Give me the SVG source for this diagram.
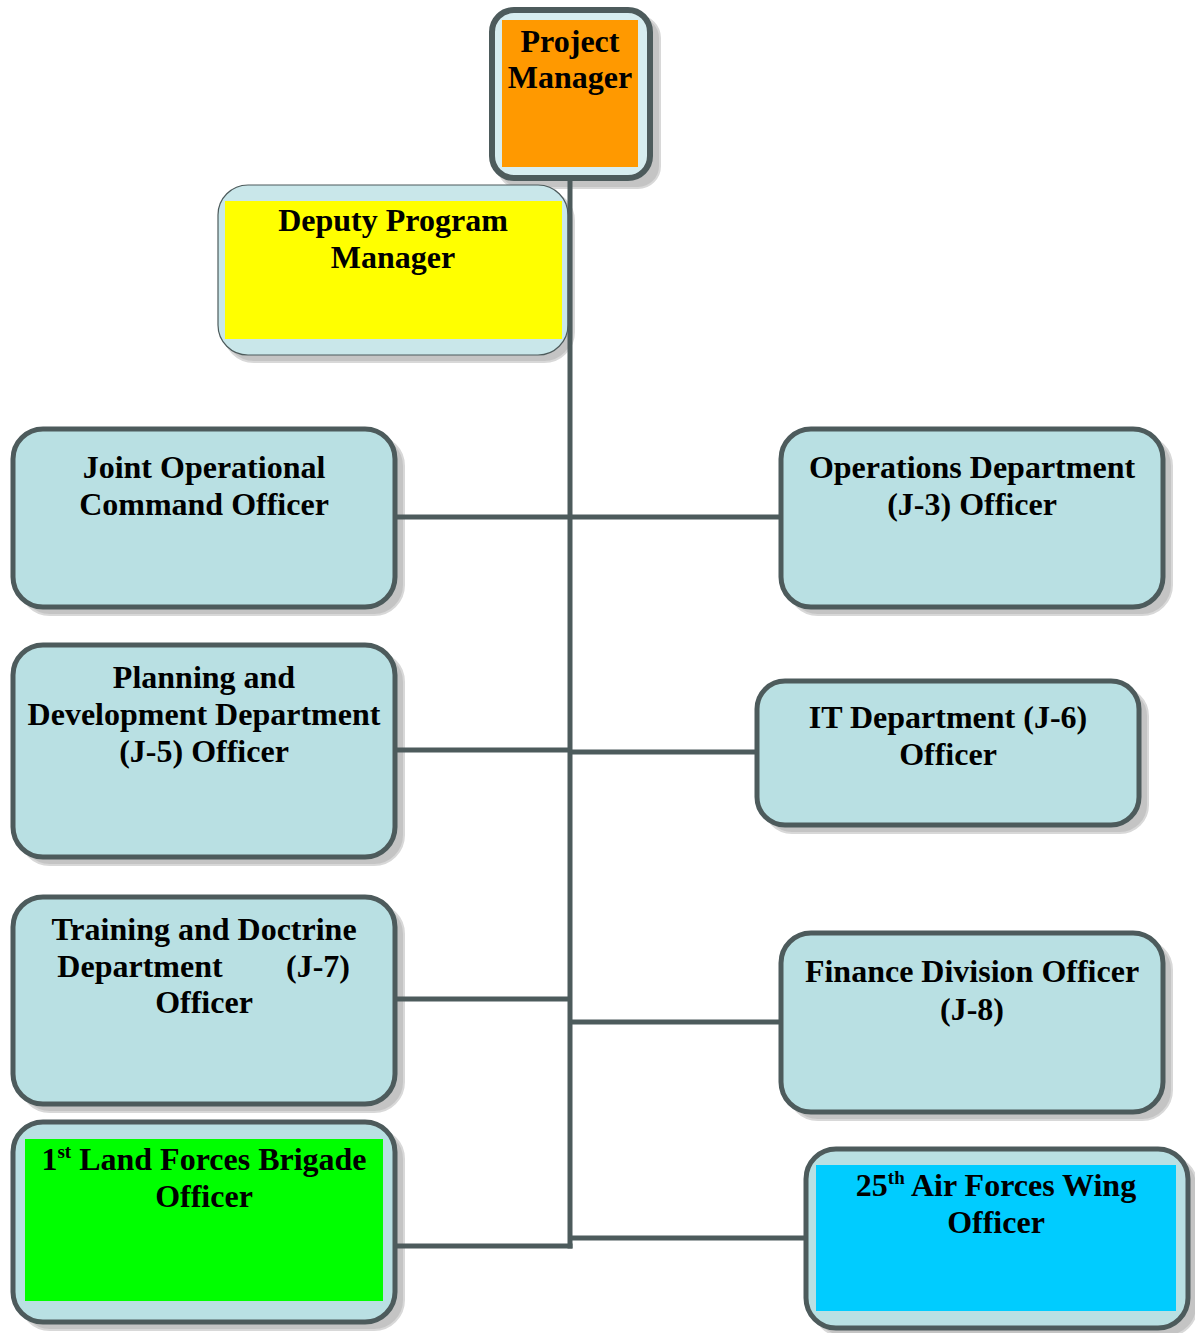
<svg xmlns="http://www.w3.org/2000/svg" width="1195" height="1333" viewBox="0 0 1195 1333">
<style>
.shadow{fill:#c4c4c4;stroke:#d8d8d8;stroke-width:2}
.box{fill:#b9e0e3;stroke:#4d5b5c;stroke-width:5}
.thin{fill:#c9e7ea;stroke:#4d5b5c;stroke-width:1.2}
.pm{fill:#d7edf0;stroke:#4d5b5c;stroke-width:6}
.conn{stroke:#4d5b5c;stroke-width:5;fill:none}
text{font-family:"Liberation Serif","Times New Roman",serif;font-weight:bold;font-size:32px;fill:#000;text-anchor:middle}
.sup{font-size:19px}
</style>
<g id="project-manager">
<rect class="shadow" x="498" y="16" width="162" height="172" rx="22"/>
<rect class="pm" x="492" y="10" width="158" height="168" rx="22"/>
<rect x="502" y="20" width="136" height="147" fill="#ff9900"/>
<text x="570" y="52">Project</text>
<text x="570" y="88">Manager</text>
</g>
<g id="deputy-program-manager">
<rect class="shadow" x="224" y="191" width="350" height="171" rx="30"/>
<rect class="thin" x="218" y="185" width="350" height="170" rx="30"/>
<rect x="225" y="201" width="337" height="138" fill="#ffff00"/>
<text x="393" y="231">Deputy Program</text>
<text x="393" y="268">Manager</text>
</g>
<g id="joint-operational">
<rect class="shadow" x="20" y="436" width="384" height="179" rx="30"/>
<rect class="box" x="13" y="429" width="382" height="178" rx="30"/>
<text x="204" y="478">Joint Operational</text>
<text x="204" y="515">Command Officer</text>
</g>
<g id="operations-j3">
<rect class="shadow" x="788" y="436" width="384" height="179" rx="30"/>
<rect class="box" x="781" y="429" width="382" height="178" rx="30"/>
<text x="972" y="478">Operations Department</text>
<text x="972" y="515">(J-3) Officer</text>
</g>
<g id="planning-j5">
<rect class="shadow" x="20" y="652" width="384" height="213" rx="30"/>
<rect class="box" x="13" y="645" width="382" height="212" rx="30"/>
<text x="204" y="688">Planning and</text>
<text x="204" y="725">Development Department</text>
<text x="204" y="762">(J-5) Officer</text>
</g>
<g id="it-j6">
<rect class="shadow" x="764" y="688" width="384" height="145" rx="28"/>
<rect class="box" x="757" y="681" width="382" height="144" rx="28"/>
<text x="948" y="728">IT Department (J-6)</text>
<text x="948" y="765">Officer</text>
</g>
<g id="training-j7">
<rect class="shadow" x="20" y="904" width="384" height="208" rx="30"/>
<rect class="box" x="13" y="897" width="382" height="207" rx="30"/>
<text x="204" y="940">Training and Doctrine</text>
<text x="140" y="977">Department</text>
<text x="318" y="977">(J-7)</text>
<text x="204" y="1013">Officer</text>
</g>
<g id="finance-j8">
<rect class="shadow" x="788" y="940" width="384" height="180" rx="30"/>
<rect class="box" x="781" y="933" width="382" height="179" rx="30"/>
<text x="972" y="982">Finance Division Officer</text>
<text x="972" y="1020">(J-8)</text>
</g>
<g id="land-forces-brigade">
<rect class="shadow" x="20" y="1129" width="384" height="201" rx="30"/>
<rect class="box" x="13" y="1122" width="382" height="200" rx="30"/>
<rect x="25" y="1139" width="358" height="162" fill="#00ff00"/>
<text x="204" y="1170">1<tspan class="sup" dy="-12">st</tspan><tspan dy="12"> Land Forces Brigade</tspan></text>
<text x="204" y="1207">Officer</text>
</g>
<g id="air-forces-wing">
<rect class="shadow" x="813" y="1156" width="384" height="180" rx="30"/>
<rect class="box" x="806" y="1149" width="382" height="179" rx="30"/>
<rect x="816" y="1165" width="360" height="146" fill="#00ccff"/>
<text x="996" y="1196">25<tspan class="sup" dy="-12">th</tspan><tspan dy="12"> Air Forces Wing</tspan></text>
<text x="996" y="1233">Officer</text>
</g>
<g id="connectors">
<line class="conn" x1="570" y1="181" x2="570" y2="1248.5"/>
<line class="conn" x1="397" y1="517" x2="779" y2="517"/>
<line class="conn" x1="397" y1="750" x2="570" y2="750"/>
<line class="conn" x1="570" y1="752" x2="755" y2="752"/>
<line class="conn" x1="397" y1="999" x2="570" y2="999"/>
<line class="conn" x1="570" y1="1022" x2="779" y2="1022"/>
<line class="conn" x1="397" y1="1246" x2="572.5" y2="1246"/>
<line class="conn" x1="570" y1="1238" x2="804" y2="1238"/>
</g>
</svg>
